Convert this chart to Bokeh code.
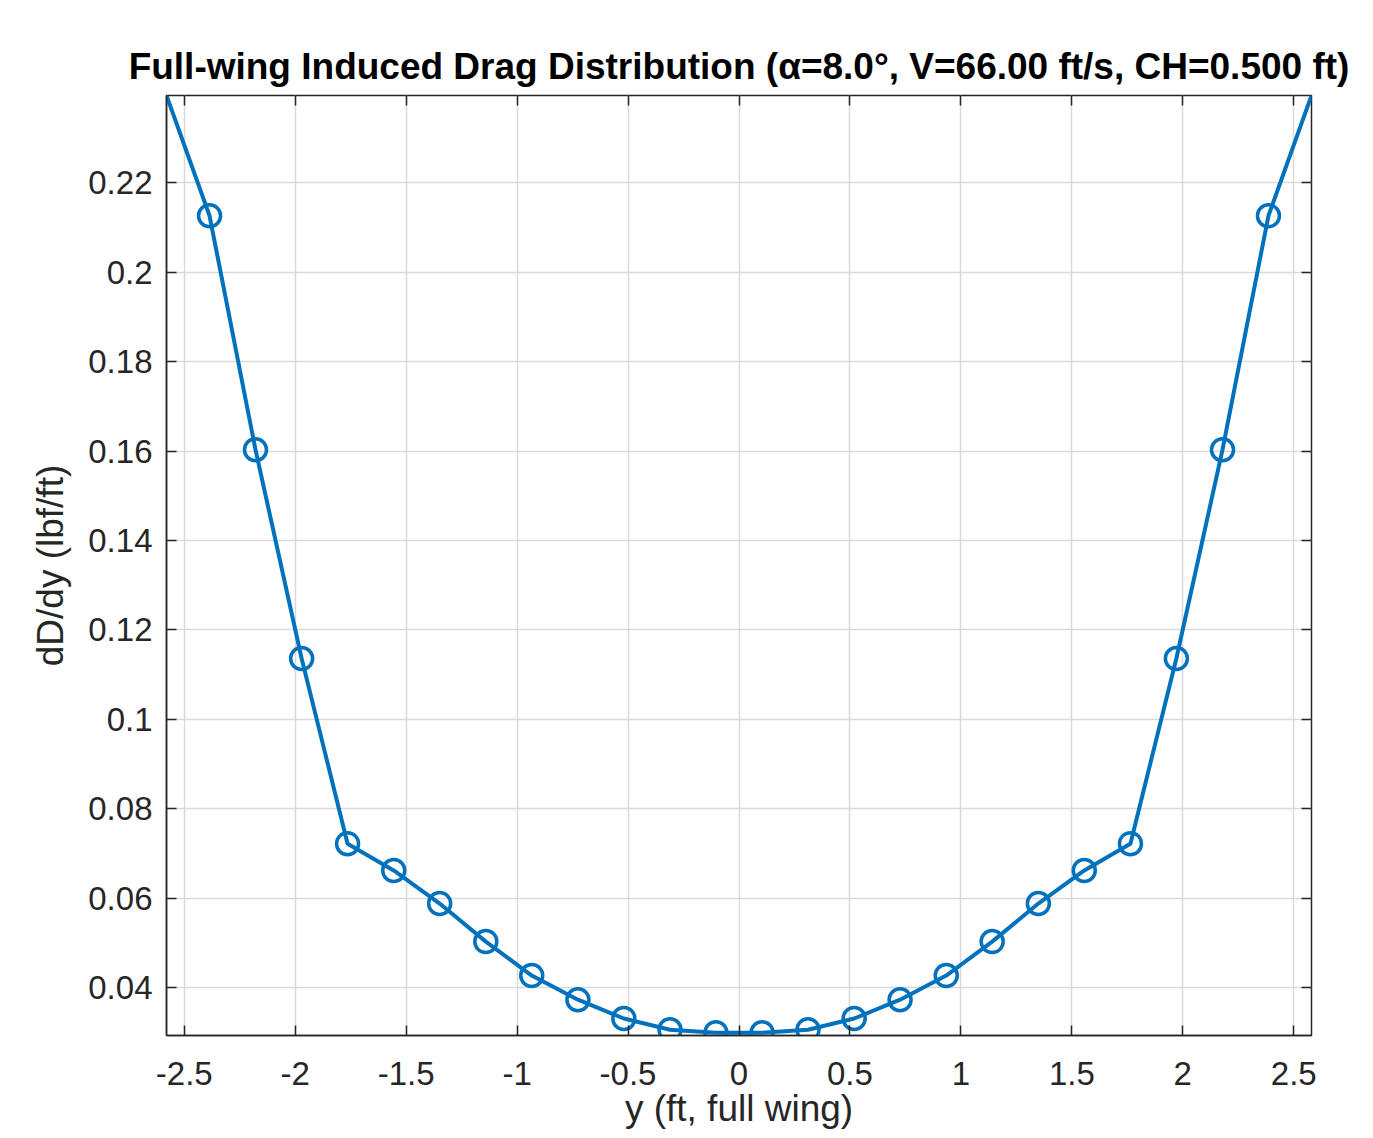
from bokeh.plotting import figure
from bokeh.models import LinearAxis, FixedTicker, Range1d, Title
from bokeh.embed import file_html
from bokeh.resources import INLINE

# spanwise station y (ft, full wing) and induced drag per unit span dD/dy (lbf/ft)
span_y = [-2.58, -2.386, -2.179, -1.971, -1.764, -1.556, -1.349, -1.141, -0.934,
          -0.726, -0.519, -0.311, -0.104, 0.104, 0.311, 0.519, 0.726, 0.934,
          1.141, 1.349, 1.556, 1.764, 1.971, 2.179, 2.386, 2.58]
dDdy = [0.2395, 0.2126, 0.1603, 0.1136, 0.0722, 0.0662, 0.0588, 0.0503, 0.0427,
        0.0373, 0.0331, 0.0306, 0.0299, 0.0299, 0.0306, 0.0331, 0.0373, 0.0427,
        0.0503, 0.0588, 0.0662, 0.0722, 0.1136, 0.1603, 0.2126, 0.2395]

x_ticks = [-2.5, -2, -1.5, -1, -0.5, 0, 0.5, 1, 1.5, 2, 2.5]
x_tick_labels = ["-2.5", "-2", "-1.5", "-1", "-0.5", "0", "0.5", "1", "1.5", "2", "2.5"]
y_ticks = [0.04, 0.06, 0.08, 0.1, 0.12, 0.14, 0.16, 0.18, 0.2, 0.22]
y_tick_labels = ["0.04", "0.06", "0.08", "0.1", "0.12", "0.14", "0.16", "0.18", "0.2", "0.22"]

title_text = "Full-wing Induced Drag Distribution (\u03b1=8.0\u00b0, V=66.00 ft/s, CH=0.500 ft)"
x_label = "y (ft, full wing)"
y_label = "dD/dy (lbf/ft)"

FONT = "Liberation Sans"
AX = "#262626"
BLUE = "#0072BD"

p = figure(frame_width=1145, frame_height=940,
           min_border_left=166, min_border_right=54, min_border_top=95, min_border_bottom=10,
           x_range=Range1d(min(span_y), max(span_y)),
           y_range=Range1d(0.0293, max(dDdy)),
           output_backend="svg", toolbar_location=None)
p.background_fill_color = "white"
p.border_fill_color = "white"
p.outline_line_color = AX
p.outline_line_width = 1.5

for ax, ticks, labels in ((p.xaxis[0], x_ticks, x_tick_labels), (p.yaxis[0], y_ticks, y_tick_labels)):
    ax.ticker = FixedTicker(ticks=ticks)
    ax.major_label_overrides = dict(zip(ticks, labels))
    ax.major_tick_in = 10
    ax.major_tick_out = 0
    ax.minor_tick_line_color = None
    ax.major_tick_line_color = AX
    ax.major_tick_line_width = 1.5
    ax.axis_line_color = AX
    ax.axis_line_width = 1.5
    ax.major_label_text_font = FONT
    ax.major_label_text_font_size = "33px"
    ax.major_label_text_color = AX
    ax.axis_label_text_font = FONT
    ax.axis_label_text_font_size = "37px"
    ax.axis_label_text_font_style = "normal"
    ax.axis_label_text_color = AX

p.xaxis[0].axis_label = x_label
p.xaxis[0].major_label_standoff = 26
p.xaxis[0].axis_label_standoff = 0
p.yaxis[0].axis_label = y_label
p.yaxis[0].major_label_standoff = 14
p.yaxis[0].axis_label_standoff = 14

# tick marks on the top and right edges of the box (no labels)
for loc, ticks in (("above", x_ticks), ("right", y_ticks)):
    a = LinearAxis(ticker=FixedTicker(ticks=ticks), major_label_text_color=None,
                   major_label_text_font_size="1px",
                   axis_line_color=None, major_tick_in=10, major_tick_out=0,
                   major_tick_line_color=AX, major_tick_line_width=1.5,
                   minor_tick_line_color=None, major_label_standoff=0)
    p.add_layout(a, loc)

for g in (p.xgrid[0], p.ygrid[0]):
    g.grid_line_color = "#d9d9d9"
    g.grid_line_width = 1.5

p.add_layout(Title(text=title_text, align="center", text_font=FONT, text_font_size="37px",
                   text_font_style="bold", text_color="black", standoff=18), "above")

p.line(span_y, dDdy, line_color=BLUE, line_width=4)
p.scatter(span_y[1:-1], dDdy[1:-1], marker="circle", size=22, fill_color=None,
          line_color=BLUE, line_width=3.5)

open("out.html", "w").write(file_html(p, INLINE))
